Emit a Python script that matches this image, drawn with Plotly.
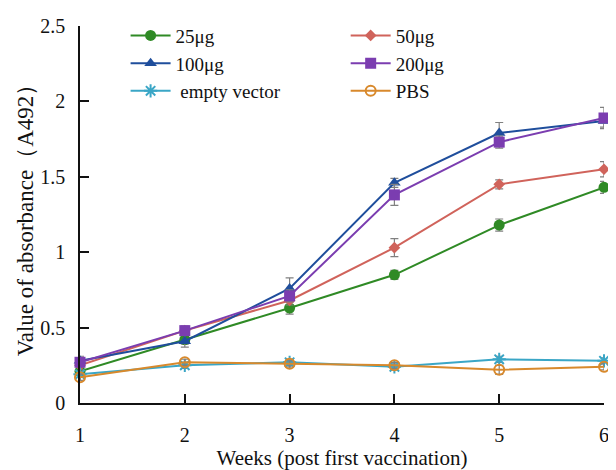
import plotly.graph_objects as go

weeks = [1, 2, 3, 4, 5, 6]
series_names = ["25μg", "50μg", "100μg", "200μg", " empty vector", "PBS"]
v25 = [0.21, 0.42, 0.63, 0.85, 1.18, 1.43]
v50 = [0.25, 0.48, 0.68, 1.03, 1.45, 1.55]
v100 = [0.28, 0.41, 0.76, 1.46, 1.79, 1.87]
v200 = [0.27, 0.48, 0.71, 1.38, 1.73, 1.89]
vempty = [0.19, 0.25, 0.27, 0.24, 0.29, 0.28]
vpbs = [0.17, 0.27, 0.26, 0.25, 0.22, 0.24]
e25 = [0.02, 0.03, 0.04, 0.03, 0.04, 0.04]
e50 = [0.03, 0.02, 0.03, 0.06, 0.03, 0.05]
e100 = [0.03, 0.04, 0.07, 0.03, 0.07, 0.04]
e200 = [0.03, 0.03, 0.04, 0.07, 0.04, 0.07]
eempty = [0.02, 0.02, 0.02, 0.02, 0.02, 0.02]
epbs = [0.02, 0.02, 0.02, 0.02, 0.03, 0.02]
y_ticks = [0, 0.5, 1, 1.5, 2, 2.5]
y_tick_text = ["0", "0.5", "1", "1.5", "2", "2.5"]

FONT = "Times New Roman, Liberation Serif, DejaVu Serif, serif"

styles = [
    (v25, e25, "#2f8a25", "circle", 11, "legend"),
    (v50, e50, "#d0635b", "diamond", 9, "legend2"),
    (v100, e100, "#1f4e9c", "triangle-up", 11, "legend"),
    (v200, e200, "#7b3db0", "square", 11, "legend2"),
    (vempty, eempty, "#3aa6c6", "asterisk-open", 11, "legend"),
    (vpbs, epbs, "#d8892c", "circle-open", 10, "legend2"),
]

fig = go.Figure()
for name, (vals, errs, color, sym, size, leg) in zip(series_names, styles):
    fig.add_trace(go.Scatter(
        x=weeks, y=vals, name=name, mode="lines+markers",
        line=dict(color=color, width=2),
        marker=dict(symbol=sym, size=size, color=color,
                    line=dict(color=color, width=2 if "open" in sym else 0)),
        error_y=dict(type="data", array=errs, visible=True,
                     color="#808080", thickness=1.2, width=4),
        cliponaxis=False,
        legend=leg,
    ))

legend_common = dict(
    font=dict(family=FONT, size=19, color="#111"),
    bgcolor="rgba(0,0,0,0)", borderwidth=0,
    orientation="v", xanchor="left", yanchor="top",
    tracegroupgap=0, itemwidth=40,
)
# page body has an 8px margin; figure size/margins compensate so the plot
# area lands at x 80..609, y 21..404 in the window
fig.update_layout(
    width=608, height=462,
    margin=dict(l=72, r=7, t=13, b=66),
    paper_bgcolor="white", plot_bgcolor="white",
    font=dict(family=FONT, size=20, color="#111"),
    showlegend=True,
    legend=dict(x=0.087, y=1.025, **legend_common),
    legend2=dict(x=0.507, y=1.025, **legend_common),
    xaxis=dict(
        range=[1, 6], tickmode="array", tickvals=weeks,
        ticks="inside", ticklen=9, tickwidth=1.5, tickcolor="#111",
        ticklabelstandoff=13,
        showline=True, linecolor="#111", linewidth=1.5,
        showgrid=False, zeroline=False,
        tickfont=dict(family=FONT, size=20, color="#111"),
        title=dict(text="Weeks (post first vaccination)",
                   font=dict(family=FONT, size=21, color="#111"), standoff=3),
    ),
    yaxis=dict(
        range=[0, 2.5], tickmode="array", tickvals=y_ticks, ticktext=y_tick_text,
        ticks="inside", ticklen=9, tickwidth=1.5, tickcolor="#111",
        ticklabelstandoff=9,
        showline=True, linecolor="#111", linewidth=1.5,
        showgrid=False, zeroline=False,
        tickfont=dict(family=FONT, size=20, color="#111"),
        title=dict(text="Value of absorbance（A492）\u00a0\u00a0\u00a0",
                   font=dict(family=FONT, size=23, color="#111"), standoff=0),
    ),
)

fig.write_html("out.html")
